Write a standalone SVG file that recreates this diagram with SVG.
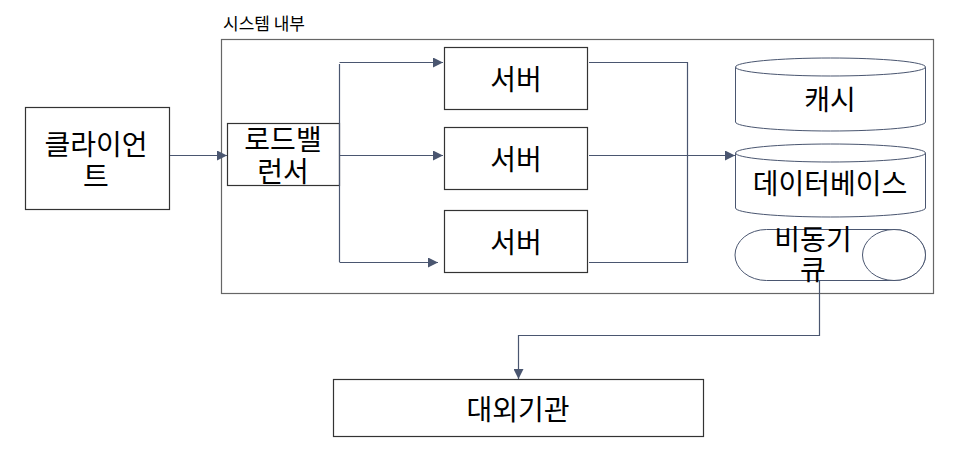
<svg xmlns="http://www.w3.org/2000/svg" width="964" height="451" viewBox="0 0 964 451">
<style>
text{font-family:"Noto Sans CJK KR","Malgun Gothic","Noto Sans",sans-serif;fill:#000;text-anchor:middle;dominant-baseline:central}
.t{font-size:28px}
.box{fill:#fff;stroke:#333;stroke-width:1.2}
.cyl{fill:#fff;stroke:#4a5670;stroke-width:1}
.c{fill:none;stroke:#4a5670;stroke-width:1.2}
</style>
<defs>
<marker id="ah" viewBox="0 0 10 10" refX="10" refY="5" markerWidth="10" markerHeight="10" markerUnits="userSpaceOnUse" orient="auto">
<path d="M0,0 L10,5 L0,10 Z" fill="#4a5670"/>
</marker>
</defs>
<rect width="964" height="451" fill="#fff"/>
<g id="system">
<rect x="221.5" y="39.5" width="712" height="254" fill="none" stroke="#666" stroke-width="1.2"/>
<text x="223" y="22" style="font-size:17px;text-anchor:start">시스템 내부</text>
</g>
<g id="client">
<rect class="box" x="25.5" y="107.5" width="144" height="102"/>
<text class="t" x="96" y="143">클라이언</text>
<text class="t" x="96" y="175">트</text>
</g>
<g id="lb">
<rect class="box" x="227.5" y="123.5" width="112" height="62"/>
<text class="t" x="283" y="138">로드밸</text>
<text class="t" x="283" y="170">런서</text>
</g>
<g id="server1">
<rect class="box" x="444.5" y="47.5" width="143" height="62"/>
<text class="t" x="516" y="78">서버</text>
</g>
<g id="server2">
<rect class="box" x="444.5" y="127.5" width="143" height="62"/>
<text class="t" x="516" y="158">서버</text>
</g>
<g id="server3">
<rect class="box" x="444.5" y="210.5" width="143" height="62"/>
<text class="t" x="516" y="241">서버</text>
</g>
<g id="cache">
<path class="cyl" d="M735.5,67 A95,9 0 0 1 925.5,67 L925.5,122 A95,9 0 0 1 735.5,122 Z"/>
<path class="cyl" d="M735.5,67 A95,9 0 0 0 925.5,67"/>
<text class="t" x="830" y="98">캐시</text>
</g>
<g id="db">
<path class="cyl" d="M735.5,153 A95,9 0 0 1 925.5,153 L925.5,208 A95,9 0 0 1 735.5,208 Z"/>
<path class="cyl" d="M735.5,153 A95,9 0 0 0 925.5,153"/>
<text class="t" x="830" y="182">데이터베이스</text>
</g>
<g id="queue">
<path class="cyl" d="M766.5,229.5 L894,229.5 A31.5,25.5 0 0 1 894,280.5 L766.5,280.5 A31.5,25.5 0 0 1 766.5,229.5 Z"/>
<ellipse class="cyl" cx="894" cy="255" rx="31.5" ry="25.5"/>
<text class="t" x="813" y="238">비동기</text>
<text class="t" x="813" y="268">큐</text>
</g>
<g id="external">
<rect class="box" x="333.5" y="379.5" width="370" height="57"/>
<text class="t" x="518" y="408">대외기관</text>
</g>
<g id="connectors">
<path class="c" d="M170,155.5 L227,155.5" marker-end="url(#ah)"/>
<path class="c" d="M339.5,64 L339.5,262"/>
<path class="c" d="M339.5,62.5 L443,62.5" marker-end="url(#ah)"/>
<path class="c" d="M339.5,155.5 L443,155.5" marker-end="url(#ah)"/>
<path class="c" d="M339.5,262.5 L438,262.5" marker-end="url(#ah)"/>
<path class="c" d="M589,62.5 L687.5,62.5 L687.5,262.5 L589,262.5"/>
<path class="c" d="M589,155.5 L735,155.5" marker-end="url(#ah)"/>
<path class="c" d="M819.5,280 L819.5,335.5 L518.5,335.5 L518.5,379" marker-end="url(#ah)"/>
</g>
</svg>
